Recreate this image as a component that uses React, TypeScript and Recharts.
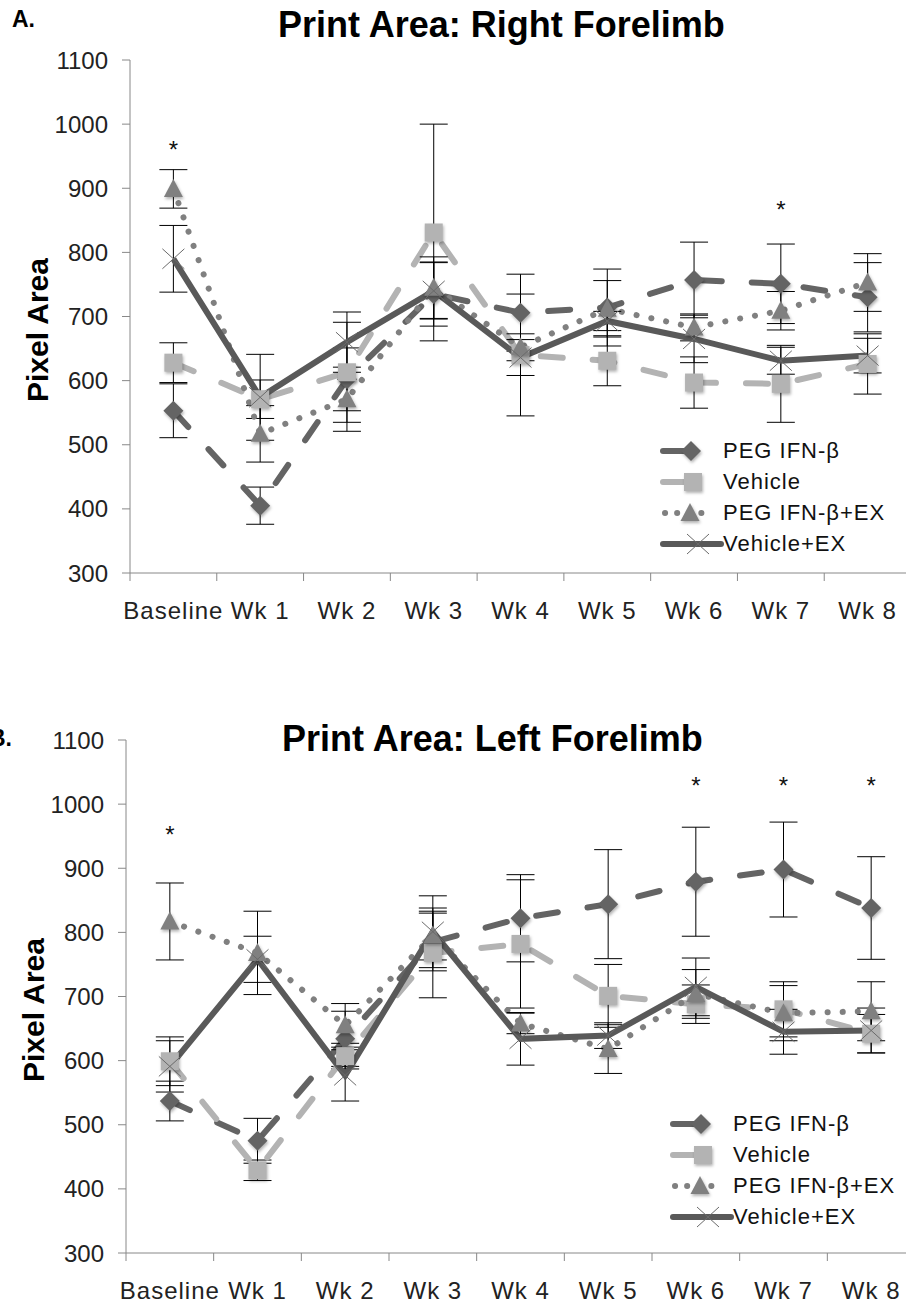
import React from "react";
import { ErrorBar, Legend, Line, LineChart, XAxis, YAxis } from "recharts";

const weeks = ["Baseline", "Wk 1", "Wk 2", "Wk 3", "Wk 4", "Wk 5", "Wk 6", "Wk 7", "Wk 8"];
const yTicks = [300, 400, 500, 600, 700, 800, 900, 1000, 1100];
const seriesNames = ["PEG IFN-β", "Vehicle", "PEG IFN-β+EX", "Vehicle+EX"];

// right forelimb
const rightPeg = [553, 405, 602, 735, 706, 714, 757, 751, 730];
const rightPegErr = [42, 29, 49, 50, 60, 60, 59, 62, 54];
const rightVeh = [628, 571, 613, 831, 640, 631, 597, 595, 626];
const rightVehErr = [31, 30, 78, 169, 95, 39, 40, 60, 47];
const rightPegEx = [899, 517, 571, 745, 652, 712, 683, 709, 753];
const rightPegExErr = [30, 44, 50, 48, 21, 44, 21, 30, 45];
const rightVehEx = [790, 574, 660, 740, 636, 693, 665, 631, 639];
const rightVehExErr = [52, 67, 47, 44, 28, 15, 37, 21, 27];
const rightStars = [961, null, null, null, null, null, null, 867, null];

// left forelimb
const leftPeg = [537, 475, 634, 785, 822, 844, 879, 898, 838];
const leftPegErr = [31, 35, 43, 45, 68, 85, 85, 74, 80];
const leftVeh = [599, 429, 607, 768, 782, 701, 688, 680, 642];
const leftVehErr = [38, 16, 20, 70, 100, 49, 30, 43, 30];
const leftPegEx = [817, 768, 655, 795, 658, 618, 704, 674, 677];
const leftPegExErr = [60, 65, 34, 38, 16, 38, 38, 43, 46];
const leftVehEx = [591, 758, 577, 801, 634, 639, 715, 645, 647];
const leftVehExErr = [40, 36, 40, 56, 41, 20, 45, 35, 35];
const leftStars = [954, null, null, null, null, null, 1030, 1030, 1030];

const FONT = '"Liberation Sans", Arial, sans-serif';
const CHART_W = 930;
const CHART_H = 640;

const C_PEG = "#646464";
const C_VEH = "#b3b3b3";
const C_PEGEX = "#808080";
const C_VEHEX = "#595959";

const shadow = { filter: "drop-shadow(1px 2px 1.5px rgba(0,0,0,0.3))" };

function build(peg, pegErr, veh, vehErr, pegEx, pegExErr, vehEx, vehExErr, stars) {
  return weeks.map((week, i) => ({
    week,
    peg: peg[i],
    pegErr: pegErr[i],
    veh: veh[i],
    vehErr: vehErr[i],
    pegEx: pegEx[i],
    pegExErr: pegExErr[i],
    vehEx: vehEx[i],
    vehExErr: vehExErr[i],
    star: stars[i],
  }));
}

const rightData = build(rightPeg, rightPegErr, rightVeh, rightVehErr, rightPegEx, rightPegExErr, rightVehEx, rightVehExErr, rightStars);
const leftData = build(leftPeg, leftPegErr, leftVeh, leftVehErr, leftPegEx, leftPegExErr, leftVehEx, leftVehExErr, leftStars);

const DiamondDot = (p: any) => {
  const { cx, cy } = p;
  if (cy == null) return <g />;
  const r = 10;
  return (
    <polygon
      style={shadow}
      points={`${cx},${cy - r} ${cx + r},${cy} ${cx},${cy + r} ${cx - r},${cy}`}
      fill={C_PEG}
    />
  );
};

const SquareDot = (p: any) => {
  const { cx, cy } = p;
  if (cy == null) return <g />;
  return <rect style={shadow} x={cx - 9} y={cy - 9} width={18} height={18} fill={C_VEH} />;
};

const TriangleDot = (p: any) => {
  const { cx, cy } = p;
  if (cy == null) return <g />;
  return (
    <polygon
      style={shadow}
      points={`${cx},${cy - 10} ${cx + 9.5},${cy + 8} ${cx - 9.5},${cy + 8}`}
      fill={C_PEGEX}
    />
  );
};

const CrossDot = (p: any) => {
  const { cx, cy } = p;
  if (cy == null) return <g />;
  return (
    <g stroke="#6a6a6a" strokeWidth={1}>
      <line x1={cx - 11} y1={cy - 10} x2={cx + 11} y2={cy + 10} />
      <line x1={cx - 11} y1={cy + 10} x2={cx + 11} y2={cy - 10} />
    </g>
  );
};

const StarDot = (p: any) => {
  const { cx, cy } = p;
  if (cy == null) return <g />;
  return (
    <text x={cx} y={cy + 9} textAnchor="middle" fontSize={24} fontFamily={FONT} fill="#111">
      *
    </text>
  );
};

const LegendBox = () => {
  const rows = [
    (
      <g>
        <line x1={8} y1={15} x2={36} y2={15} stroke={C_PEG} strokeWidth={6} strokeLinecap="round" />
        <DiamondDot cx={36} cy={15} />
      </g>
    ),
    (
      <g>
        <line x1={8} y1={15} x2={34} y2={15} stroke={C_VEH} strokeWidth={6} strokeLinecap="round" />
        <SquareDot cx={38} cy={15} />
      </g>
    ),
    (
      <g>
        <line x1={10} y1={15} x2={56} y2={15} stroke={C_PEGEX} strokeWidth={6} strokeLinecap="round" strokeDasharray="0.1 12" />
        <TriangleDot cx={35} cy={15} />
      </g>
    ),
    (
      <g>
        <line x1={8} y1={15} x2={66} y2={15} stroke={C_VEHEX} strokeWidth={6} strokeLinecap="round" />
        <CrossDot cx={43} cy={15} />
      </g>
    ),
  ];
  return (
    <div style={{ fontFamily: FONT }}>
      {seriesNames.map((n, i) => (
        <div key={n} style={{ display: "flex", alignItems: "center", height: 31 }}>
          <svg width={68} height={30} style={{ overflow: "visible" }}>
            {rows[i]}
          </svg>
          <span style={{ fontSize: 22, letterSpacing: 1, color: "#111", whiteSpace: "nowrap" }}>{n}</span>
        </div>
      ))}
    </div>
  );
};

function Panel({ data, top, yAxisW, marginRight, legendLeft, legendTop }) {
  const band = (CHART_W - yAxisW - marginRight) / weeks.length;
  const WeekTick = (p: any) => {
    const { x, y, payload, index } = p;
    return (
      <g>
        <line x1={x - band / 2} y1={y} x2={x - band / 2} y2={y + 8} stroke="#888" />
        {index === weeks.length - 1 && (
          <line x1={x + band / 2} y1={y} x2={x + band / 2} y2={y + 8} stroke="#888" />
        )}
        <text x={x} y={y + 46} textAnchor="middle" fontSize={24} letterSpacing={1} fontFamily={FONT} fill="#222">
          {payload.value}
        </text>
      </g>
    );
  };
  return (
    <div style={{ position: "absolute", left: 0, top }}>
      <LineChart
        width={CHART_W}
        height={CHART_H}
        data={data}
        margin={{ top: 60, right: marginRight, bottom: CHART_H - 60 - 513 - 50, left: 0 }}
      >
        <XAxis
          dataKey="week"
          height={50}
          interval={0}
          padding={{ left: band / 2, right: band / 2 }}
          tickLine={false}
          tickSize={0}
          tickMargin={0}
          axisLine={{ stroke: "#888" }}
          tick={WeekTick}
        />
        <YAxis
          width={yAxisW}
          domain={[300, 1100]}
          ticks={yTicks}
          interval={0}
          tickSize={8}
          tickMargin={14}
          axisLine={{ stroke: "#888" }}
          tickLine={{ stroke: "#888" }}
          tick={{ fontSize: 24, fill: "#222", fontFamily: FONT }}
        />
        <Legend
          layout="horizontal"
          verticalAlign="middle"
          align="center"
          content={LegendBox}
          wrapperStyle={{ left: legendLeft, top: legendTop, width: 270 }}
        />
        <Line
          dataKey="peg"
          name={seriesNames[0]}
          stroke={C_PEG}
          strokeWidth={6}
          strokeDasharray="22 30"
          strokeLinecap="round"
          dot={DiamondDot}
          activeDot={false}
          isAnimationActive={false}
        >
          <ErrorBar dataKey="pegErr" width={14} stroke="#000" strokeWidth={1} direction="y" />
        </Line>
        <Line
          dataKey="veh"
          name={seriesNames[1]}
          stroke={C_VEH}
          strokeWidth={6}
          strokeDasharray="22 30"
          strokeLinecap="round"
          dot={SquareDot}
          activeDot={false}
          isAnimationActive={false}
        >
          <ErrorBar dataKey="vehErr" width={14} stroke="#000" strokeWidth={1} direction="y" />
        </Line>
        <Line
          dataKey="pegEx"
          name={seriesNames[2]}
          stroke={C_PEGEX}
          strokeWidth={6}
          strokeDasharray="0.1 15"
          strokeLinecap="round"
          dot={TriangleDot}
          activeDot={false}
          isAnimationActive={false}
        >
          <ErrorBar dataKey="pegExErr" width={14} stroke="#000" strokeWidth={1} direction="y" />
        </Line>
        <Line
          dataKey="vehEx"
          name={seriesNames[3]}
          stroke={C_VEHEX}
          strokeWidth={6}
          dot={CrossDot}
          activeDot={false}
          isAnimationActive={false}
        >
          <ErrorBar dataKey="vehExErr" width={14} stroke="#000" strokeWidth={1} direction="y" />
        </Line>
        <Line
          dataKey="star"
          stroke="none"
          legendType="none"
          dot={StarDot}
          activeDot={false}
          isAnimationActive={false}
        />
      </LineChart>
    </div>
  );
}

const overlayText = (text, left, top, size) => (
  <div
    style={{
      position: "absolute",
      left,
      top,
      fontFamily: FONT,
      fontWeight: "bold",
      fontSize: size,
      lineHeight: 1,
      whiteSpace: "nowrap",
      color: "#000",
    }}
  >
    {text}
  </div>
);

const yLabel = (cx, cy) => (
  <div
    style={{
      position: "absolute",
      left: cx,
      top: cy,
      transform: "translate(-50%, -50%) rotate(-90deg)",
      fontFamily: FONT,
      fontWeight: "bold",
      fontSize: 30,
      lineHeight: 1,
      whiteSpace: "nowrap",
    }}
  >
    Pixel Area
  </div>
);

export default function App() {
  return (
    <div
      style={{
        position: "absolute",
        left: 0,
        top: 0,
        width: 906,
        height: 1305,
        overflow: "hidden",
        background: "#fff",
      }}
    >
      <Panel data={rightData} top={0} yAxisW={130} marginRight={19} legendLeft={655} legendTop={435} />
      <Panel data={leftData} top={680} yAxisW={126} marginRight={15} legendLeft={665} legendTop={428} />
      {overlayText("A.", 12, 8, 23)}
      {overlayText("Print Area:  Right Forelimb", 278, 7, 36)}
      {overlayText("B.", -11, 727, 23)}
      {overlayText("Print Area:  Left Forelimb", 282, 721, 36)}
      {yLabel(38, 330)}
      {yLabel(34, 1010)}
    </div>
  );
}
